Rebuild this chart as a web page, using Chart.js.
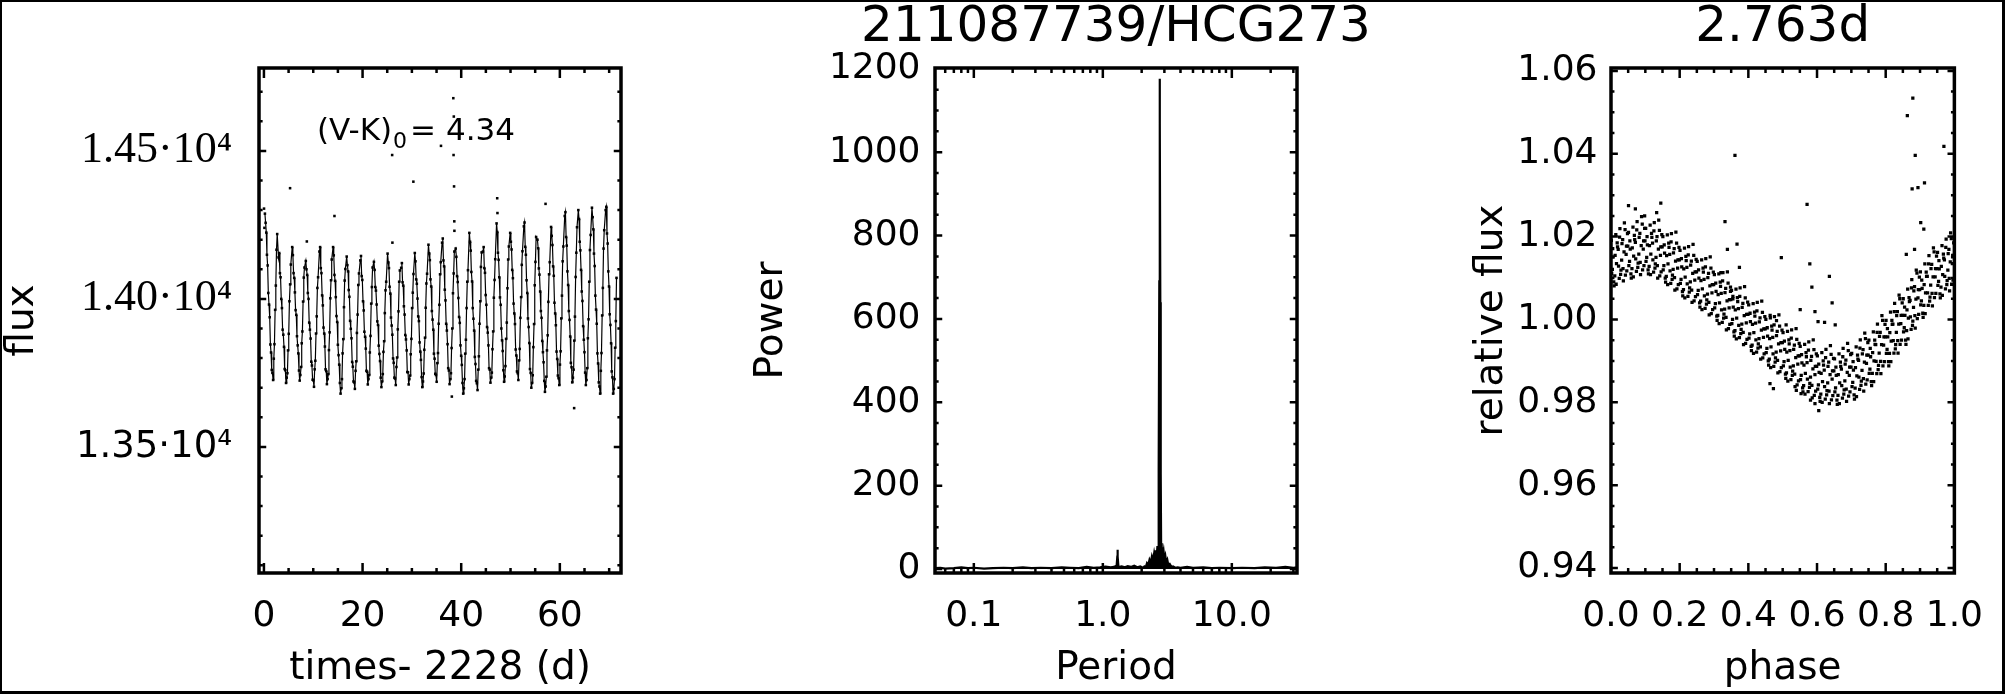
<!DOCTYPE html>
<html>
<head>
<meta charset="utf-8">
<script src="https://cdn.jsdelivr.net/npm/chart.js@4.4.1/dist/chart.umd.min.js"></script>
<style>
html,body{margin:0;padding:0;background:#fff;}
#wrap{position:relative;width:2005px;height:694px;overflow:hidden;background:#fff;}
#wrap canvas{position:absolute;left:0;top:0;}
#frame{position:absolute;left:0;top:0;width:2005px;height:694px;box-sizing:border-box;border-style:solid;border-color:#000;border-width:2px 3px 3px 2px;pointer-events:none;}
</style>
</head>
<body>
<div id="wrap">
<canvas id="c1" width="2005" height="694"></canvas>
<canvas id="c2" width="2005" height="694"></canvas>
<canvas id="c3" width="2005" height="694"></canvas>
<div id="frame"></div>
</div>
<script>
// ---------------- texts ----------------
const starName = '211087739/HCG273';
const periodLabel = '2.763d';
const colorLabelMain = '(V-K)';
const colorLabelSub = '0';
const colorLabelValue = '= 4.34';
const colorLabelPos = [10.76, 14537];

// ---------------- panel 1: light curve ----------------
const timeTicks = [0, 20, 40, 60];
const timeTickLabels = ['0', '20', '40', '60'];
const fluxTicks = [13500, 14000, 14500];
const fluxTickLabels = ['1.35\u00b710\u2074', '1.40\u00b710\u2074', '1.45\u00b710\u2074'];

const lcTime = [
0.20,0.34,0.48,0.61,0.75,0.89,1.03,1.17,1.31,1.44,1.58,1.72,1.86,2.00,2.13,2.27,2.41,2.55,2.69,
2.96,3.10,3.24,3.37,3.51,3.65,3.79,3.93,4.07,4.20,4.34,4.48,4.62,4.76,4.89,5.03,5.17,5.31,5.45,
5.73,5.87,6.01,6.14,6.28,6.42,6.56,6.70,6.84,6.97,7.11,7.25,7.39,7.53,7.66,7.80,7.94,8.08,8.22,
8.49,8.63,8.77,8.90,9.04,9.18,9.32,9.46,9.60,9.73,9.87,10.01,10.15,10.29,10.42,10.56,10.70,10.84,10.98,
11.25,11.39,11.53,11.66,11.80,11.94,12.08,12.22,12.36,12.49,12.63,12.77,12.91,13.05,13.18,13.32,13.46,13.60,13.74,
14.02,14.16,14.30,14.43,14.57,14.71,14.85,14.99,15.13,15.26,15.40,15.54,15.68,15.82,15.95,16.09,16.23,16.37,16.51,
16.78,16.92,17.06,17.19,17.33,17.47,17.61,17.75,17.89,18.02,18.16,18.30,18.44,18.58,18.71,18.85,18.99,19.13,19.27,
19.54,19.68,19.82,19.95,20.09,20.23,20.37,20.51,20.65,20.78,20.92,21.06,21.20,21.34,21.47,21.61,21.75,21.89,22.03,
22.30,22.44,22.58,22.71,22.85,22.99,23.13,23.27,23.41,23.54,23.68,23.82,23.96,24.10,24.23,24.37,24.51,24.65,24.79,
25.07,25.21,25.35,25.48,25.62,25.76,25.90,26.04,26.18,26.31,26.45,26.59,26.73,26.87,27.00,27.14,27.28,27.42,27.56,
27.83,27.97,28.11,28.24,28.38,28.52,28.66,28.80,28.94,29.07,29.21,29.35,29.49,29.63,29.76,29.90,30.04,30.18,30.32,
30.59,30.73,30.87,31.00,31.14,31.28,31.42,31.56,31.70,31.83,31.97,32.11,32.25,32.39,32.52,32.66,32.80,32.94,33.08,
33.36,33.50,33.64,33.77,33.91,34.05,34.19,34.33,34.47,34.60,34.74,34.88,35.02,35.16,35.29,35.43,35.57,35.71,35.85,
36.12,36.26,36.40,36.53,36.67,36.81,36.95,37.09,37.23,37.36,37.50,37.64,37.78,37.92,38.05,38.19,38.33,38.47,38.61,
38.88,39.02,39.16,39.29,39.43,39.57,39.71,39.85,39.99,40.12,40.26,40.40,40.54,40.68,40.81,40.95,41.09,41.23,41.37,
41.65,41.79,41.93,42.06,42.20,42.34,42.48,42.62,42.76,42.89,43.03,43.17,43.31,43.45,43.58,43.72,43.86,44.00,44.14,
44.41,44.55,44.69,44.82,44.96,45.10,45.24,45.38,45.52,45.65,45.79,45.93,46.07,46.21,46.34,46.48,46.62,46.76,46.90,
47.17,47.31,47.45,47.58,47.72,47.86,48.00,48.14,48.28,48.41,48.55,48.69,48.83,48.97,49.10,49.24,49.38,49.52,49.66,
49.93,50.07,50.21,50.34,50.48,50.62,50.76,50.90,51.04,51.17,51.31,51.45,51.59,51.73,51.86,52.00,52.14,52.28,52.42,
52.70,52.84,52.98,53.11,53.25,53.39,53.53,53.67,53.81,53.94,54.08,54.22,54.36,54.50,54.63,54.77,54.91,55.05,55.19,
55.46,55.60,55.74,55.87,56.01,56.15,56.29,56.43,56.57,56.70,56.84,56.98,57.12,57.26,57.39,57.53,57.67,57.81,57.95,
58.22,58.36,58.50,58.63,58.77,58.91,59.05,59.19,59.33,59.46,59.60,59.74,59.88,60.02,60.15,60.29,60.43,60.57,60.71,
60.99,61.13,61.27,61.40,61.54,61.68,61.82,61.96,62.10,62.23,62.37,62.51,62.65,62.79,62.92,63.06,63.20,63.34,63.48,
63.75,63.89,64.03,64.16,64.30,64.44,64.58,64.72,64.86,64.99,65.13,65.27,65.41,65.55,65.68,65.82,65.96,66.10,66.24,
66.51,66.65,66.79,66.92,67.06,67.20,67.34,67.48,67.62,67.75,67.89,68.03,68.17,68.31,68.44,68.58,68.72,68.86,69.00,
69.28,69.42,69.56,69.69,69.83,69.97,70.11,70.25,70.39,70.52,70.66,70.80,70.94,71.08,71.21,71.35,71.49
];
const lcFlux = [
14288,14257,14224,14149,14113,14020,13981,13938,13846,13819,13760,13750,13726,13798,13847,13963,14045,14166,14219,
14140,14155,14087,14073,14000,13969,13896,13879,13838,13763,13759,13716,13734,13749,13826,13882,13992,14049,14116,
14175,14148,14087,14071,14022,13962,13946,13874,13843,13816,13758,13724,13743,13770,13850,13890,13991,14072,14106,
14128,14100,14081,14020,14000,13920,13896,13866,13788,13775,13727,13725,13703,13762,13791,13883,13941,14037,14073,
14160,14175,14104,14087,14012,13978,13903,13883,13839,13762,13756,13712,13729,13746,13827,13887,14002,14063,14133,
14175,14147,14081,14061,14006,13942,13922,13845,13810,13778,13716,13680,13698,13729,13816,13864,13972,14062,14101,
14143,14114,14093,14030,14007,13926,13899,13867,13787,13771,13721,13718,13696,13757,13789,13885,13947,14047,14086,
14130,14145,14077,14064,13992,13961,13889,13872,13832,13757,13754,13711,13729,13743,13819,13875,13984,14040,14106,
14125,14098,14040,14028,13981,13924,13912,13842,13814,13790,13734,13702,13721,13746,13821,13857,13952,14029,14058,
14153,14124,14104,14041,14018,13937,13910,13879,13799,13784,13734,13731,13709,13770,13802,13897,13958,14058,14096,
14105,14121,14056,14045,13975,13947,13878,13863,13826,13753,13752,13711,13729,13741,13813,13865,13969,14021,14084,
14155,14127,14066,14051,14001,13941,13925,13853,13822,13794,13736,13702,13721,13748,13828,13869,13970,14052,14085,
14183,14154,14131,14066,14042,13959,13930,13896,13815,13798,13747,13743,13720,13783,13817,13916,13980,14083,14124,
14190,14204,14130,14110,14031,13995,13916,13893,13847,13766,13758,13712,13729,13749,13834,13900,14019,14086,14160,
14170,14142,14077,14057,14003,13939,13919,13843,13808,13777,13716,13680,13698,13729,13815,13862,13969,14058,14097,
14223,14193,14163,14091,14059,13969,13933,13893,13804,13780,13723,13715,13692,13761,13806,13916,13992,14108,14157,
14160,14175,14104,14088,14013,13980,13905,13886,13843,13766,13761,13717,13734,13751,13830,13890,14004,14064,14134,
14255,14226,14156,14132,14073,14005,13980,13900,13860,13824,13759,13720,13738,13773,13865,13920,14036,14133,14177,
14223,14193,14167,14098,14070,13984,13951,13915,13829,13809,13755,13749,13726,13792,13831,13936,14006,14115,14161,
14245,14258,14176,14149,14063,14020,13934,13905,13851,13763,13750,13700,13716,13742,13837,13915,14046,14125,14209,
14200,14171,14103,14082,14025,13959,13936,13858,13820,13786,13723,13686,13704,13737,13826,13877,13990,14083,14124,
14243,14213,14182,14110,14078,13987,13951,13911,13822,13797,13741,13732,13709,13778,13823,13934,14011,14127,14177,
14280,14293,14209,14180,14093,14047,13959,13929,13873,13784,13769,13718,13734,13761,13859,13940,14074,14156,14242,
14300,14270,14193,14164,14098,14025,13993,13908,13862,13820,13751,13709,13726,13766,13867,13931,14058,14165,14216,
14308,14276,14235,14153,14111,14011,13964,13916,13816,13782,13718,13704,13680,13757,13817,13944,14037,14170,14232,
14300,14311,14221,14187,14093,14042,13948,13912,13850,13755,13735,13680,13696,13729,13835,13925,14071
];
const lcOutlierTime = [0.02,0.10,5.30,8.70,14.30,26.00,26.05,30.30,35.90,38.10,38.40,38.45,38.50,38.55,38.60,38.62,47.30,47.35,57.10,62.90];
const lcOutlierFlux = [14305,14240,14374,14194,14280,14486,14190,14396,14517,13670,14678,14486,14616,14380,14262,14230,14340,14290,14321,13631];

// ---------------- panel 2: periodogram ----------------
const periodTicks = [0.1, 1, 10];
const periodTickLabels = ['0.1', '1.0', '10.0'];
const powerTicks = [0, 200, 400, 600, 800, 1000, 1200];
const powerTickLabels = ['0', '200', '400', '600', '800', '1000', '1200'];
const periodValues = [
0.050,0.055,0.060,0.070,0.080,0.090,0.100,0.120,0.140,0.170,0.200,0.240,0.280,0.330,0.400,0.480,0.560,0.650,0.750,0.850,
0.950,1.050,1.150,1.220,1.260,1.280,1.295,1.300,1.305,1.320,1.350,1.400,1.480,1.560,1.650,1.750,1.850,1.950,2.050,2.100,
2.150,2.200,2.250,2.300,2.350,2.400,2.450,2.500,2.540,2.580,2.620,2.650,2.680,2.700,2.720,2.740,2.755,2.763,2.772,2.790,
2.810,2.830,2.860,2.890,2.920,2.960,3.000,3.050,3.100,3.160,3.220,3.300,3.400,3.500,3.650,3.800,4.000,4.500,5.000,6.000,
7.000,8.000,10.00,12.00,15.00,18.00,22.00,26.00,30.00,32.00
];
const powerValues = [
2,3,1,2,4,2,3,1,2,3,2,4,2,3,2,4,3,2,5,3,
4,6,4,5,7,9,30,46,30,7,5,6,4,7,5,8,4,6,3,6,
4,14,10,22,15,30,20,38,26,45,32,55,38,70,240,690,1090,1176,1070,640,
230,62,40,52,30,42,24,32,16,22,9,12,5,6,3,4,3,5,3,4,
2,3,2,3,2,4,3,5,3,4
];

// ---------------- panel 3: phased light curve ----------------
const phaseTicks = [0, 0.2, 0.4, 0.6, 0.8, 1.0];
const phaseTickLabels = ['0.0', '0.2', '0.4', '0.6', '0.8', '1.0'];
const relFluxTicks = [0.94, 0.96, 0.98, 1.00, 1.02, 1.04, 1.06];
const relFluxTickLabels = ['0.94', '0.96', '0.98', '1.00', '1.02', '1.04', '1.06'];
const phaseValues = [
0.001,0.004,0.006,0.009,0.011,0.014,0.016,0.019,0.021,0.024,0.026,0.029,0.031,0.034,0.036,0.039,0.041,0.044,0.046,0.049,
0.051,0.054,0.056,0.059,0.061,0.064,0.066,0.069,0.071,0.074,0.076,0.079,0.081,0.084,0.086,0.089,0.091,0.094,0.096,0.099,
0.101,0.104,0.106,0.109,0.111,0.114,0.116,0.119,0.121,0.124,0.126,0.129,0.131,0.134,0.136,0.139,0.141,0.144,0.146,0.149,
0.151,0.154,0.156,0.159,0.161,0.164,0.166,0.169,0.171,0.174,0.176,0.179,0.181,0.184,0.186,0.189,0.191,0.194,0.196,0.199,
0.201,0.204,0.206,0.209,0.211,0.214,0.216,0.219,0.221,0.224,0.226,0.229,0.231,0.234,0.236,0.239,0.241,0.244,0.246,0.249,
0.251,0.254,0.256,0.259,0.261,0.264,0.266,0.269,0.271,0.274,0.276,0.279,0.281,0.284,0.286,0.289,0.291,0.294,0.296,0.299,
0.301,0.304,0.306,0.309,0.311,0.314,0.316,0.319,0.321,0.324,0.326,0.329,0.331,0.334,0.336,0.339,0.341,0.344,0.346,0.349,
0.351,0.354,0.356,0.359,0.361,0.364,0.366,0.369,0.371,0.374,0.376,0.379,0.381,0.384,0.386,0.389,0.391,0.394,0.396,0.399,
0.401,0.404,0.406,0.409,0.411,0.414,0.416,0.419,0.421,0.424,0.426,0.429,0.431,0.434,0.436,0.439,0.441,0.444,0.446,0.449,
0.451,0.454,0.456,0.459,0.461,0.464,0.466,0.469,0.471,0.474,0.476,0.479,0.481,0.484,0.486,0.489,0.491,0.494,0.496,0.499,
0.501,0.504,0.506,0.509,0.511,0.514,0.516,0.519,0.521,0.524,0.526,0.529,0.531,0.534,0.536,0.539,0.541,0.544,0.546,0.549,
0.551,0.554,0.556,0.559,0.561,0.564,0.566,0.569,0.571,0.574,0.576,0.579,0.581,0.584,0.586,0.589,0.591,0.594,0.596,0.599,
0.601,0.604,0.606,0.609,0.611,0.614,0.616,0.619,0.621,0.624,0.626,0.629,0.631,0.634,0.636,0.639,0.641,0.644,0.646,0.649,
0.651,0.654,0.656,0.659,0.661,0.664,0.666,0.669,0.671,0.674,0.676,0.679,0.681,0.684,0.686,0.689,0.691,0.694,0.696,0.699,
0.701,0.704,0.706,0.709,0.711,0.714,0.716,0.719,0.721,0.724,0.726,0.729,0.731,0.734,0.736,0.739,0.741,0.744,0.746,0.749,
0.751,0.754,0.756,0.759,0.761,0.764,0.766,0.769,0.771,0.774,0.776,0.779,0.781,0.784,0.786,0.789,0.791,0.794,0.796,0.799,
0.801,0.804,0.806,0.809,0.811,0.814,0.816,0.819,0.821,0.824,0.826,0.829,0.831,0.834,0.836,0.839,0.841,0.844,0.846,0.849,
0.851,0.854,0.856,0.859,0.861,0.864,0.866,0.869,0.871,0.874,0.876,0.879,0.881,0.884,0.886,0.889,0.891,0.894,0.896,0.899,
0.901,0.904,0.906,0.909,0.911,0.914,0.916,0.919,0.921,0.924,0.926,0.929,0.931,0.934,0.936,0.939,0.941,0.944,0.946,0.949,
0.951,0.954,0.956,0.959,0.961,0.964,0.966,0.969,0.971,0.974,0.976,0.979,0.981,0.984,0.986,0.989,0.991,0.994,0.996,0.999
];
const relFluxValues = [
1.0191,1.0121,1.0151,1.0081,1.0105,1.0205,1.0135,1.0175,1.0169,1.0099,1.0219,1.0119,1.0143,1.0193,1.0093,1.0233,1.0217,1.0157,1.0117,1.0177,
1.0210,1.0140,1.0170,1.0100,1.0123,1.0223,1.0153,1.0193,1.0186,1.0116,1.0236,1.0136,1.0158,1.0208,1.0108,1.0248,1.0230,1.0170,1.0130,1.0190,
1.0220,1.0150,1.0180,1.0110,1.0128,1.0228,1.0158,1.0198,1.0184,1.0114,1.0234,1.0134,1.0150,1.0200,1.0100,1.0240,1.0215,1.0155,1.0115,1.0175,
1.0200,1.0130,1.0160,1.0090,1.0104,1.0204,1.0134,1.0174,1.0157,1.0087,1.0207,1.0107,1.0121,1.0171,1.0071,1.0211,1.0184,1.0124,1.0084,1.0144,
1.0167,1.0097,1.0127,1.0057,1.0072,1.0172,1.0102,1.0142,1.0126,1.0056,1.0176,1.0076,1.0091,1.0141,1.0041,1.0181,1.0155,1.0095,1.0055,1.0115,
1.0140,1.0070,1.0100,1.0030,1.0044,1.0144,1.0074,1.0114,1.0097,1.0027,1.0147,1.0047,1.0061,1.0111,1.0011,1.0151,1.0124,1.0064,1.0024,1.0084,
1.0108,1.0038,1.0068,0.9998,1.0010,1.0110,1.0040,1.0080,1.0063,0.9993,1.0113,1.0013,1.0025,1.0075,0.9975,1.0115,1.0088,1.0028,0.9988,1.0048,
1.0070,1.0000,1.0030,0.9960,0.9973,1.0073,1.0003,1.0043,1.0026,0.9956,1.0076,0.9976,0.9989,1.0039,0.9939,1.0079,1.0052,0.9992,0.9952,1.0012,
1.0035,0.9965,0.9995,0.9925,0.9938,1.0038,0.9968,1.0008,0.9991,0.9921,1.0041,0.9941,0.9954,1.0004,0.9904,1.0044,1.0017,0.9957,0.9917,0.9977,
1.0000,0.9930,0.9960,0.9890,0.9904,1.0004,0.9934,0.9974,0.9957,0.9887,1.0007,0.9907,0.9921,0.9971,0.9871,1.0011,0.9984,0.9924,0.9884,0.9944,
0.9968,0.9898,0.9928,0.9858,0.9871,0.9971,0.9901,0.9941,0.9925,0.9855,0.9975,0.9875,0.9888,0.9938,0.9838,0.9978,0.9952,0.9892,0.9852,0.9912,
0.9935,0.9865,0.9895,0.9825,0.9840,0.9940,0.9870,0.9910,0.9896,0.9826,0.9946,0.9846,0.9861,0.9911,0.9811,0.9951,0.9927,0.9867,0.9827,0.9887,
0.9912,0.9842,0.9872,0.9802,0.9820,0.9920,0.9850,0.9890,0.9878,0.9808,0.9928,0.9828,0.9847,0.9897,0.9797,0.9937,0.9916,0.9856,0.9816,0.9876,
0.9905,0.9835,0.9865,0.9795,0.9817,0.9917,0.9847,0.9887,0.9880,0.9810,0.9930,0.9830,0.9852,0.9902,0.9802,0.9942,0.9925,0.9865,0.9825,0.9885,
0.9918,0.9848,0.9878,0.9808,0.9834,0.9934,0.9864,0.9904,0.9901,0.9831,0.9951,0.9851,0.9877,0.9927,0.9827,0.9967,0.9954,0.9894,0.9854,0.9914,
0.9950,0.9880,0.9910,0.9840,0.9870,0.9970,0.9900,0.9940,0.9939,0.9869,0.9989,0.9889,0.9919,0.9969,0.9869,1.0009,0.9998,0.9938,0.9898,0.9958,
0.9998,0.9928,0.9958,0.9888,0.9918,1.0018,0.9948,0.9988,0.9989,0.9919,1.0039,0.9939,0.9969,1.0019,0.9919,1.0059,1.0050,0.9990,0.9950,1.0010,
1.0050,0.9980,1.0010,0.9940,0.9973,1.0073,1.0003,1.0043,1.0046,0.9976,1.0096,0.9996,1.0029,1.0079,0.9979,1.0119,1.0112,1.0052,1.0012,1.0072,
1.0115,1.0045,1.0075,1.0005,1.0034,1.0134,1.0064,1.0104,1.0104,1.0034,1.0154,1.0054,1.0083,1.0133,1.0033,1.0173,1.0163,1.0103,1.0063,1.0123,
1.0162,1.0092,1.0122,1.0052,1.0078,1.0178,1.0108,1.0148,1.0144,1.0074,1.0194,1.0094,1.0119,1.0169,1.0069,1.0209,1.0195,1.0135,1.0095,1.0155
];
const phaseValues2 = [
0.002,0.005,0.008,0.012,0.015,0.018,0.022,0.025,0.028,0.032,0.035,0.038,0.042,0.045,0.048,0.052,0.055,0.058,0.062,0.065,0.068,0.072,0.075,0.078,0.082,0.085,0.088,0.092,0.095,0.098,
0.102,0.105,0.108,0.112,0.115,0.118,0.122,0.125,0.128,0.132,0.135,0.138,0.142,0.145,0.148,0.152,0.155,0.158,0.162,0.165,0.168,0.172,0.175,0.178,0.182,0.185,0.188,0.192,0.195,0.198,
0.202,0.205,0.208,0.212,0.215,0.218,0.222,0.225,0.228,0.232,0.235,0.238,0.242,0.245,0.248,0.252,0.255,0.258,0.262,0.265,0.268,0.272,0.275,0.278,0.282,0.285,0.288,0.292,0.295,0.298,
0.302,0.305,0.308,0.312,0.315,0.318,0.322,0.325,0.328,0.332,0.335,0.338,0.342,0.345,0.348,0.352,0.355,0.358,0.362,0.365,0.368,0.372,0.375,0.378,0.382,0.385,0.388,0.392,0.395,0.398,
0.402,0.405,0.408,0.412,0.415,0.418,0.422,0.425,0.428,0.432,0.435,0.438,0.442,0.445,0.448,0.452,0.455,0.458,0.462,0.465,0.468,0.472,0.475,0.478,0.482,0.485,0.488,0.492,0.495,0.498,
0.502,0.505,0.508,0.512,0.515,0.518,0.522,0.525,0.528,0.532,0.535,0.538,0.542,0.545,0.548,0.552,0.555,0.558,0.562,0.565,0.568,0.572,0.575,0.578,0.582,0.585,0.588,0.592,0.595,0.598,
0.602,0.605,0.608,0.612,0.615,0.618,0.622,0.625,0.628,0.632,0.635,0.638,0.642,0.645,0.648,0.652,0.655,0.658,0.662,0.665,0.668,0.672,0.675,0.678,0.682,0.685,0.688,0.692,0.695,0.698,
0.702,0.705,0.708,0.712,0.715,0.718,0.722,0.725,0.728,0.732,0.735,0.738,0.742,0.745,0.748,0.752,0.755,0.758,0.762,0.765,0.768,0.772,0.775,0.778,0.782,0.785,0.788,0.792,0.795,0.798,
0.802,0.805,0.808,0.812,0.815,0.818,0.822,0.825,0.828,0.832,0.835,0.838,0.842,0.845,0.848,0.852,0.855,0.858,0.862,0.865,0.868,0.872,0.875,0.878,0.882,0.885,0.888,0.892,0.895,0.898,
0.902,0.905,0.908,0.912,0.915,0.918,0.922,0.925,0.928,0.932,0.935,0.938,0.942,0.945,0.948,0.952,0.955,0.958,0.962,0.965,0.968,0.972,0.975,0.978,0.982,0.985,0.988,0.992,0.995,0.998
];
const relFluxValues2 = [
1.0111,1.0171,1.0091,1.0155,1.0085,1.0185,1.0129,1.0199,1.0109,1.0183,1.0123,1.0163,1.0107,1.0177,1.0207,1.0130,1.0190,1.0110,1.0173,1.0103,1.0203,1.0146,1.0216,1.0126,1.0198,1.0138,1.0178,1.0120,1.0190,1.0220,
1.0140,1.0200,1.0120,1.0178,1.0108,1.0208,1.0144,1.0214,1.0124,1.0190,1.0130,1.0170,1.0105,1.0175,1.0205,1.0120,1.0180,1.0100,1.0154,1.0084,1.0184,1.0117,1.0187,1.0097,1.0161,1.0101,1.0141,1.0074,1.0144,1.0174,
1.0087,1.0147,1.0067,1.0122,1.0052,1.0152,1.0086,1.0156,1.0066,1.0131,1.0071,1.0111,1.0045,1.0115,1.0145,1.0060,1.0120,1.0040,1.0094,1.0024,1.0124,1.0057,1.0127,1.0037,1.0101,1.0041,1.0081,1.0014,1.0084,1.0114,
1.0028,1.0088,1.0008,1.0060,0.9990,1.0090,1.0023,1.0093,1.0003,1.0065,1.0005,1.0045,0.9978,1.0048,1.0078,0.9990,1.0050,0.9970,1.0023,0.9953,1.0053,0.9986,1.0056,0.9966,1.0029,0.9969,1.0009,0.9942,1.0012,1.0042,
0.9955,1.0015,0.9935,0.9988,0.9918,1.0018,0.9951,1.0021,0.9931,0.9994,0.9934,0.9974,0.9907,0.9977,1.0007,0.9920,0.9980,0.9900,0.9954,0.9884,0.9984,0.9917,0.9987,0.9897,0.9961,0.9901,0.9941,0.9874,0.9944,0.9974,
0.9888,0.9948,0.9868,0.9921,0.9851,0.9951,0.9885,0.9955,0.9865,0.9928,0.9868,0.9908,0.9842,0.9912,0.9942,0.9855,0.9915,0.9835,0.9890,0.9820,0.9920,0.9856,0.9926,0.9836,0.9901,0.9841,0.9881,0.9817,0.9887,0.9917,
0.9832,0.9892,0.9812,0.9870,0.9800,0.9900,0.9838,0.9908,0.9818,0.9887,0.9827,0.9867,0.9806,0.9876,0.9906,0.9825,0.9885,0.9805,0.9867,0.9797,0.9897,0.9840,0.9910,0.9820,0.9892,0.9832,0.9872,0.9815,0.9885,0.9915,
0.9838,0.9898,0.9818,0.9884,0.9814,0.9914,0.9861,0.9931,0.9841,0.9917,0.9857,0.9897,0.9844,0.9914,0.9944,0.9870,0.9930,0.9850,0.9920,0.9850,0.9950,0.9899,0.9969,0.9879,0.9959,0.9899,0.9939,0.9888,0.9958,0.9988,
0.9918,0.9978,0.9898,0.9968,0.9898,0.9998,0.9949,1.0019,0.9929,1.0009,0.9949,0.9989,0.9940,1.0010,1.0040,0.9970,1.0030,0.9950,1.0023,0.9953,1.0053,1.0006,1.0076,0.9986,1.0069,1.0009,1.0049,1.0002,1.0072,1.0102,
1.0035,1.0095,1.0015,1.0084,1.0014,1.0114,1.0064,1.0134,1.0044,1.0123,1.0063,1.0103,1.0053,1.0123,1.0153,1.0082,1.0142,1.0062,1.0128,1.0058,1.0158,1.0104,1.0174,1.0084,1.0159,1.0099,1.0139,1.0085,1.0155,1.0185
];
const phaseOutlierValues = [0.879,0.863,0.9695,0.886,0.361,0.877,0.894,0.913,0.571,0.051,0.071,0.098,0.133,0.145,0.332,0.902,0.911,0.367,0.339,0.496,0.579,0.374,0.860,0.884,0.636,0.320,0.585,0.644,0.551,0.594,0.653,0.622,0.603,0.4635,0.482,0.510,0.348,0.355,0.605,0.594,0.581,0.463,0.473,0.5397,0.5535];
const relFluxOutlierValues = [1.0534,1.0492,1.0418,1.0396,1.0396,1.0315,1.0318,1.0330,1.0278,1.0275,1.0267,1.0250,1.0258,1.0281,1.0236,1.0234,1.0218,1.0182,1.0169,1.0149,1.0134,1.0126,1.0157,1.0169,1.0104,1.0113,1.0078,1.0040,1.0024,1.0019,0.9987,0.9993,0.9995,1.0010,0.9997,0.9987,1.0068,1.0056,0.9780,0.9797,0.9805,0.9845,0.9833,0.9829,0.9821];

// ---------------- rendering ----------------
const SANS = "'DejaVu Sans', 'Liberation Sans', Arial, sans-serif";
const SERIF = "'Liberation Serif', 'Times New Roman', serif";
Chart.defaults.font.family = SANS;
Chart.defaults.color = '#000';

const W = 2005, H = 694;
const TICK_FONT = 36, AXIS_TITLE_FONT = 39, TITLE_FONT = 50;

function range(a, b, step) { const r = []; for (let v = a; v <= b + step * 1e-6; v += step) r.push(+v.toFixed(6)); return r; }

function boxTicks(xMajor, xMinor, yMajor, yMinor) {
  return {
    id: 'boxTicks',
    afterDatasetsDraw(chart) {
      const ctx = chart.ctx, a = chart.chartArea, xs = chart.scales.x, ys = chart.scales.y;
      const xLen = 0.02 * (a.bottom - a.top), yLen = 0.02 * (a.right - a.left);
      ctx.save();
      ctx.strokeStyle = '#000';
      ctx.lineWidth = 2.5;
      ctx.beginPath();
      const xt = (vals, len) => vals.forEach(v => {
        const p = xs.getPixelForValue(v);
        if (p < a.left + 2 || p > a.right - 2) return;
        ctx.moveTo(p, a.bottom); ctx.lineTo(p, a.bottom - len);
        ctx.moveTo(p, a.top); ctx.lineTo(p, a.top + len);
      });
      const yt = (vals, len) => vals.forEach(v => {
        const p = ys.getPixelForValue(v);
        if (p < a.top + 2 || p > a.bottom - 2) return;
        ctx.moveTo(a.left, p); ctx.lineTo(a.left + len, p);
        ctx.moveTo(a.right, p); ctx.lineTo(a.right - len, p);
      });
      xt(xMajor, xLen); xt(xMinor, xLen / 2);
      yt(yMajor, yLen); yt(yMinor, yLen / 2);
      ctx.stroke();
      ctx.lineWidth = 3.5;
      ctx.strokeRect(a.left, a.top, a.right - a.left, a.bottom - a.top);
      ctx.restore();
    }
  };
}
// lets a centred chart title run wider than the plot box (as in the original figure)
const wideTitle = {
  id: 'wideTitle',
  afterLayout(chart) {
    const t = chart.titleBlock;
    if (!t) return;
    const c = (t.left + t.right) / 2;
    t.left = c - 420; t.right = c + 420; t.width = 840;
  }
};

function xAxis(extra) {
  return Object.assign({
    position: 'bottom', bounds: 'data',
    grid: { display: false, drawTicks: false, drawOnChartArea: false },
    border: { display: false },
    afterFit: s => { s.height = 121; }
  }, extra);
}
function yAxis(width, extra) {
  return Object.assign({
    position: 'left', bounds: 'data',
    grid: { display: false, drawTicks: false, drawOnChartArea: false },
    border: { display: false },
    afterFit: s => { s.width = width; }
  }, extra);
}
const baseOpts = { responsive: false, animation: false, devicePixelRatio: 1, events: [] };
const axisTitleFont = { size: AXIS_TITLE_FONT, lineHeight: 0.9 };

// Panel 1
const lcPoints = lcTime.map((t, i) => ({ x: t, y: lcFlux[i] }));
const lcOutlierPoints = lcOutlierTime.map((t, i) => ({ x: t, y: lcOutlierFlux[i] }));
const annotPlugin = {
  id: 'annot',
  afterDatasetsDraw(chart) {
    const ctx = chart.ctx, xs = chart.scales.x, ys = chart.scales.y;
    let px = xs.getPixelForValue(colorLabelPos[0]);
    const py = ys.getPixelForValue(colorLabelPos[1]);
    ctx.save();
    ctx.fillStyle = '#000';
    ctx.textBaseline = 'alphabetic';
    ctx.textAlign = 'left';
    ctx.font = '31px ' + SANS;
    ctx.fillText(colorLabelMain, px, py);
    px += ctx.measureText(colorLabelMain).width + 1;
    ctx.font = '22px ' + SANS;
    ctx.fillText(colorLabelSub, px, py + 8);
    px += ctx.measureText(colorLabelSub).width + 3;
    ctx.font = '31px ' + SANS;
    ctx.fillText(colorLabelValue, px, py);
    ctx.restore();
  }
};
new Chart(document.getElementById('c1'), {
  type: 'scatter',
  data: { datasets: [
    { data: lcPoints, showLine: true, borderColor: '#000', borderWidth: 1.2, tension: 0,
      pointStyle: 'rect', pointRadius: 1.8, backgroundColor: '#000', pointBorderWidth: 0 },
    { data: lcOutlierPoints, showLine: false, pointStyle: 'rect', pointRadius: 1.8, backgroundColor: '#000', pointBorderWidth: 0 }
  ] },
  options: Object.assign({}, baseOpts, {
    layout: { padding: { left: 0, right: W - 621, top: 68, bottom: 0 } },
    plugins: { legend: { display: false }, tooltip: { enabled: false }, title: { display: false } },
    scales: {
      x: xAxis({
        type: 'linear', min: -1.0, max: 72.4,
        afterBuildTicks: s => { s.ticks = timeTicks.map(v => ({ value: v })); },
        ticks: { autoSkip: false, maxRotation: 0, minRotation: 0, padding: 22, color: '#000', font: { size: TICK_FONT },
          callback: (v, i) => timeTickLabels[i] },
        title: { display: true, text: 'times- 2228 (d)', color: '#000', font: axisTitleFont, padding: { top: 0, bottom: 8 } }
      }),
      y: yAxis(259, {
        type: 'linear', min: 13074, max: 14780,
        afterBuildTicks: s => { s.ticks = fluxTicks.map(v => ({ value: v })); },
        ticks: { autoSkip: false, padding: 27, color: '#000',
          font: c => (c.tick && c.tick.value === 13500) ? { family: SANS, size: 37 } : { family: SERIF, size: 44 },
          callback: (v, i) => fluxTickLabels[i] },
        title: { display: true, text: 'flux', color: '#000', font: axisTitleFont, padding: { top: 5, bottom: 0 } }
      })
    }
  }),
  plugins: [boxTicks(timeTicks, range(5, 70, 5), fluxTicks, range(13100, 14700, 100)), annotPlugin]
});

// Panel 2
const pgPoints = periodValues.map((p, i) => ({ x: p, y: powerValues[i] }));
const logMinor = [0.05,0.06,0.07,0.08,0.09,0.2,0.3,0.4,0.5,0.6,0.7,0.8,0.9,2,3,4,5,6,7,8,9,20,30];
new Chart(document.getElementById('c2'), {
  type: 'line',
  data: { datasets: [{ data: pgPoints, borderColor: '#000', borderWidth: 2.2, pointRadius: 0, tension: 0, fill: 'origin', backgroundColor: '#000' }] },
  options: Object.assign({}, baseOpts, {
    layout: { padding: { left: 740, right: W - 1297, top: 0, bottom: 0 } },
    plugins: { legend: { display: false }, tooltip: { enabled: false },
      title: { display: true, text: starName, fullSize: false, position: 'top', align: 'center', color: '#000',
        font: { size: TITLE_FONT, weight: 'normal', lineHeight: 1.0 }, padding: { top: 2.7, bottom: 15.3 } } },
    scales: {
      x: xAxis({
        type: 'logarithmic', min: 0.05, max: 32,
        afterBuildTicks: s => { s.ticks = periodTicks.map(v => ({ value: v })); },
        ticks: { autoSkip: false, maxRotation: 0, minRotation: 0, padding: 22, color: '#000', font: { size: TICK_FONT },
          callback: (v, i) => periodTickLabels[i] },
        title: { display: true, text: 'Period', color: '#000', font: axisTitleFont, padding: { top: 0, bottom: 8 } }
      }),
      y: yAxis(935 - 740, {
        type: 'linear', min: -9.6, max: 1202,
        afterBuildTicks: s => { s.ticks = powerTicks.map(v => ({ value: v })); },
        ticks: { autoSkip: false, padding: 14.5, color: '#000', font: { size: TICK_FONT },
          callback: (v, i) => powerTickLabels[i] },
        title: { display: true, text: 'Power', color: '#000', font: axisTitleFont, padding: { top: 14, bottom: 0 } }
      })
    }
  }),
  plugins: [boxTicks(periodTicks, logMinor, powerTicks, range(50, 1150, 50)), wideTitle]
});

// Panel 3
const phPoints = phaseValues.map((p, i) => ({ x: p, y: relFluxValues[i] }))
  .concat(phaseValues2.map((p, i) => ({ x: p, y: relFluxValues2[i] })))
  .concat(phaseOutlierValues.map((p, i) => ({ x: p, y: relFluxOutlierValues[i] })));
new Chart(document.getElementById('c3'), {
  type: 'scatter',
  data: { datasets: [{ data: phPoints, pointStyle: 'rect', pointRadius: 2.3, backgroundColor: '#000', pointBorderWidth: 0 }] },
  options: Object.assign({}, baseOpts, {
    layout: { padding: { left: 1460, right: W - 1972, top: 0, bottom: 0 } },
    plugins: { legend: { display: false }, tooltip: { enabled: false },
      title: { display: true, text: periodLabel, fullSize: false, position: 'top', align: 'center', color: '#000',
        font: { size: TITLE_FONT, weight: 'normal', lineHeight: 1.0 }, padding: { top: 2.7, bottom: 15.3 } } },
    scales: {
      x: xAxis({
        type: 'linear', min: 0, max: 1,
        afterBuildTicks: s => { s.ticks = phaseTicks.map(v => ({ value: v })); },
        ticks: { autoSkip: false, maxRotation: 0, minRotation: 0, padding: 22, color: '#000', font: { size: TICK_FONT },
          callback: (v, i) => phaseTickLabels[i] },
        title: { display: true, text: 'phase', color: '#000', font: axisTitleFont, padding: { top: 0, bottom: 8 } }
      }),
      y: yAxis(1611 - 1460, {
        type: 'linear', min: 0.9388, max: 1.0607,
        afterBuildTicks: s => { s.ticks = relFluxTicks.map(v => ({ value: v })); },
        ticks: { autoSkip: false, padding: 13.5, color: '#000', font: { size: TICK_FONT },
          callback: (v, i) => relFluxTickLabels[i] },
        title: { display: true, text: 'relative flux', color: '#000', font: axisTitleFont, padding: { top: 14, bottom: 0 } }
      })
    }
  }),
  plugins: [boxTicks(phaseTicks, range(0.05, 0.95, 0.05), relFluxTicks, range(0.945, 1.055, 0.005)), wideTitle]
});
</script>
</body>
</html>
